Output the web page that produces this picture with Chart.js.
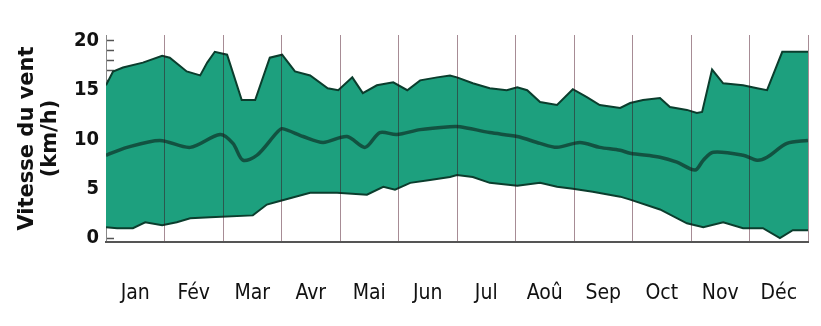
<!DOCTYPE html>
<html>
<head>
<meta charset="utf-8">
<script src="https://cdn.jsdelivr.net/npm/chart.js@4"></script>
<style>
  body { margin: 0; background: #fff; }
  #wrap { width: 821px; height: 326px; }
</style>
</head>
<body>
<div id="wrap"><canvas id="wind-chart"></canvas></div>
<script>
// mois (x = position en mois, 0 = début janvier)
const monthLabels = ['Jan', 'Fév', 'Mar', 'Avr', 'Mai', 'Jun', 'Jul', 'Aoû', 'Sep', 'Oct', 'Nov', 'Déc'];
const majorTicks = [0, 5, 10, 15, 20];
const minorTicks = [16, 17, 18, 19];

// vitesse max (haut de la bande)
const upperX = [0, 0.12, 0.29, 0.63, 0.96, 1.09, 1.38, 1.61, 1.73, 1.86, 2.07, 2.32, 2.55, 2.80, 3.01, 3.23, 3.49, 3.79, 3.97, 4.21, 4.39, 4.63, 4.91, 5.15, 5.37, 5.66, 5.88, 6.0, 6.27, 6.56, 6.85, 7.03, 7.2, 7.42, 7.71, 7.98, 8.22, 8.44, 8.79, 8.96, 9.18, 9.47, 9.64, 9.93, 10.1, 10.19, 10.36, 10.55, 10.89, 11.13, 11.30, 11.56, 12.0];
const upperY = [15.5, 16.9, 17.3, 17.8, 18.5, 18.3, 16.9, 16.5, 17.8, 18.9, 18.6, 14.0, 14.0, 18.3, 18.6, 16.9, 16.5, 15.2, 15.0, 16.3, 14.7, 15.5, 15.8, 15.0, 16.0, 16.3, 16.5, 16.3, 15.7, 15.2, 15.0, 15.3, 15.0, 13.8, 13.5, 15.1, 14.3, 13.5, 13.2, 13.7, 14.0, 14.2, 13.3, 13.0, 12.7, 12.8, 17.1, 15.7, 15.5, 15.2, 15.0, 18.9, 18.9];

// vitesse moyenne
const meanX = [0, 0.36, 0.92, 1.44, 1.95, 2.17, 2.34, 2.58, 2.92, 3.01, 3.37, 3.71, 4.12, 4.43, 4.68, 4.97, 5.37, 5.88, 6.05, 6.56, 7.03, 7.42, 7.71, 8.10, 8.44, 8.79, 8.96, 9.47, 9.76, 10.07, 10.21, 10.38, 10.89, 11.13, 11.30, 11.64, 12.0];
const meanY = [8.4, 9.2, 9.9, 9.2, 10.5, 9.6, 7.9, 8.4, 10.7, 11.1, 10.3, 9.7, 10.3, 9.2, 10.7, 10.5, 11.0, 11.3, 11.3, 10.7, 10.3, 9.6, 9.2, 9.7, 9.2, 8.9, 8.6, 8.2, 7.7, 6.9, 7.9, 8.7, 8.4, 7.9, 8.2, 9.6, 9.9];

// vitesse min (bas de la bande)
const lowerX = [0, 0.19, 0.46, 0.67, 0.96, 1.21, 1.44, 1.78, 2.51, 2.75, 2.94, 3.49, 3.95, 4.46, 4.74, 4.94, 5.20, 5.54, 5.88, 6.0, 6.27, 6.56, 7.03, 7.42, 7.71, 7.98, 8.32, 8.79, 8.96, 9.47, 9.93, 10.21, 10.55, 10.89, 11.23, 11.52, 11.74, 12.0];
const lowerY = [1.1, 1.0, 1.0, 1.6, 1.3, 1.6, 2.0, 2.1, 2.3, 3.4, 3.7, 4.6, 4.6, 4.4, 5.2, 4.9, 5.6, 5.9, 6.2, 6.4, 6.2, 5.6, 5.3, 5.6, 5.2, 5.0, 4.7, 4.2, 3.9, 2.9, 1.5, 1.1, 1.6, 1.0, 1.0, 0.0, 0.8, 0.8];

const toPoints = (xs, ys) => xs.map((x, i) => ({ x: x, y: ys[i] }));

const tickFont = "'DejaVu Sans Condensed', 'Liberation Sans Narrow', 'Arial Narrow', sans-serif";

new Chart(document.getElementById('wind-chart'), {
  type: 'line',
  data: {
    datasets: [
      {
        data: toPoints(upperX, upperY),
        borderColor: '#0b3d2d',
        borderWidth: 2,
        backgroundColor: '#1da07e',
        pointRadius: 0,
        tension: 0,
        fill: 1,
        order: 2
      },
      {
        data: toPoints(lowerX, lowerY),
        borderColor: '#0b3d2d',
        borderWidth: 2,
        pointRadius: 0,
        tension: 0,
        fill: false,
        order: 1
      },
      {
        data: toPoints(meanX, meanY),
        borderColor: 'rgba(16, 68, 54, 0.85)',
        borderWidth: 3.5,
        pointRadius: 0,
        tension: 0.3,
        fill: false,
        order: 0
      }
    ]
  },
  options: {
    responsive: true,
    maintainAspectRatio: false,
    animation: false,
    layout: {
      padding: { top: 35, right: 13, bottom: 0, left: 0 }
    },
    plugins: {
      legend: { display: false },
      tooltip: { enabled: false }
    },
    scales: {
      x: {
        type: 'linear',
        min: 0,
        max: 12,
        afterBuildTicks: scale => {
          scale.ticks = monthLabels.map((m, i) => ({ value: i + 0.5 }));
        },
        afterFit: scale => {
          scale.height = 84;
          scale.paddingLeft = 0;
          scale.paddingRight = 0;
        },
        ticks: {
          autoSkip: false,
          maxRotation: 0,
          padding: 39,
          color: '#111',
          font: { family: tickFont, size: 21 },
          callback: (v, i) => monthLabels[i]
        },
        grid: {
          z: 1,
          offset: true,
          drawTicks: false,
          color: ctx => (ctx.index === 0 || ctx.index === 12) ? 'transparent' : 'rgba(60, 0, 20, 0.45)',
          lineWidth: 1
        },
        border: { display: true, color: '#555', width: 2, z: 1 }
      },
      y: {
        min: -0.4,
        max: 20.6,
        afterBuildTicks: scale => {
          scale.ticks = majorTicks.concat(minorTicks).sort((a, b) => a - b).map(v => ({ value: v }));
        },
        afterFit: scale => { scale.width = 106; },
        ticks: {
          autoSkip: false,
          padding: 15,
          color: '#111',
          font: { family: tickFont, size: 20, weight: 'bold' },
          callback: v => majorTicks.includes(v) ? v : ''
        },
        grid: {
          drawOnChartArea: false,
          drawTicks: true,
          tickLength: -8,
          tickColor: '#555',
          tickWidth: 1.5
        },
        border: { display: true, color: '#888', width: 1 },
        title: {
          display: true,
          text: ['Vitesse du vent', '(km/h)'],
          color: '#111',
          font: { family: "'DejaVu Sans', sans-serif", size: 21, weight: 'bold', lineHeight: 1.05 },
          padding: { top: 17, bottom: 0 }
        }
      }
    }
  }
});
</script>
</body>
</html>
